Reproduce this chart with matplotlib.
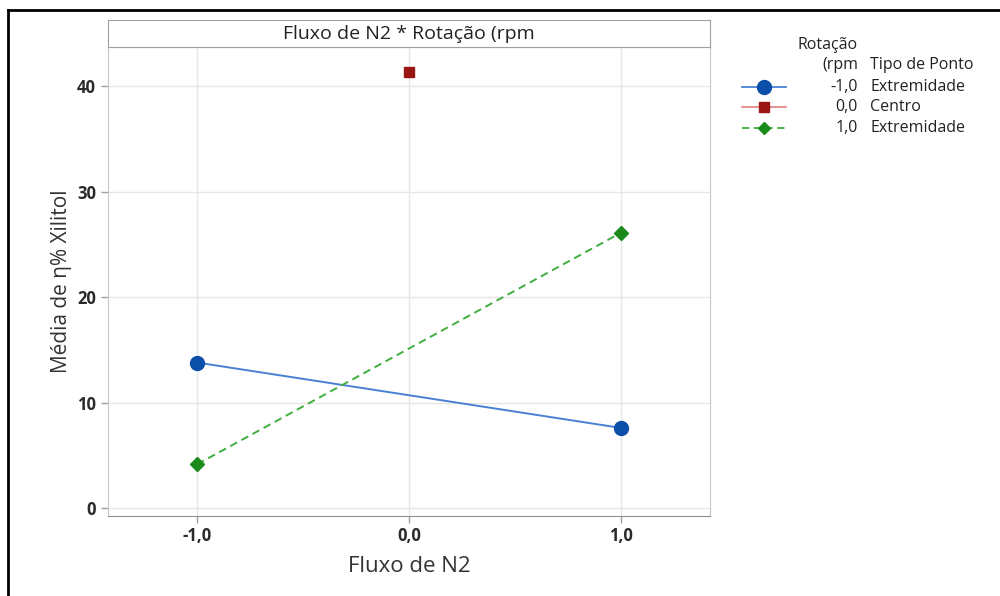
import matplotlib.pyplot as plt
from matplotlib.lines import Line2D

plt.rcParams['font.family'] = ['Open Sans', 'DejaVu Sans']

fluxo = [-1.0, 0.0, 1.0]
x_ticklabels = ["-1,0", "0,0", "1,0"]
y_ticks = [0, 10, 20, 30, 40]

# médias por nível de rotação
rot_labels = ["-1,0", "0,0", "1,0"]
tipo_ponto = ["Extremidade", "Centro", "Extremidade"]
x_baixa = [-1.0, 1.0]
y_baixa = [13.8, 7.6]
x_centro = [0.0]
y_centro = [41.35]
x_alta = [-1.0, 1.0]
y_alta = [4.15, 26.1]

blue_m, blue_l = "#0b4fa8", "#4a80d4"
red_m, red_l = "#9c1515", "#e08a8a"
green_m, green_l = "#1a8a1a", "#3fae3f"
edge = "#a0a0a0"

fig = plt.figure(figsize=(10, 5.96), dpi=100)
ax = fig.add_axes([0.108, 0.134, 0.602, 0.787])

ax.plot(x_baixa, y_baixa, color=blue_l, lw=1.4, marker="o", ms=10,
        mfc=blue_m, mec=blue_m, zorder=3)
ax.plot(x_centro, y_centro, color=red_l, lw=1.2, marker="s", ms=7,
        mfc=red_m, mec=red_m, zorder=3)
ax.plot(x_alta, y_alta, color=green_l, lw=1.4, ls=(0, (4, 2.5)), marker="D",
        ms=7, mfc=green_m, mec=green_m, zorder=3)

ax.set_xlim(-1.42, 1.42)
ax.set_ylim(-0.76, 43.7)
ax.set_xticks(fluxo)
ax.set_xticklabels(x_ticklabels)
ax.set_yticks(y_ticks)
ax.grid(True, color="#e6e6e6", lw=1)
ax.set_axisbelow(True)
ax.tick_params(axis="both", colors=edge, labelcolor="#2a2a2a", length=5,
               width=1, labelsize=12)
for lab in ax.get_xticklabels() + ax.get_yticklabels():
    lab.set_fontweight("bold")
ax.tick_params(axis="x", pad=3)
for side in ["top", "right", "left"]:
    ax.spines[side].set_color("#c8c8c8")
ax.spines["bottom"].set_color("#909090")
ax.set_xlabel("Fluxo de N2", fontsize=16, color="#333333", labelpad=8)
ax.set_ylabel("Média de η% Xilitol", fontsize=15, color="#333333", labelpad=4)

# faixa do título
strip = fig.add_axes([0.108, 0.921, 0.602, 0.045])
strip.set_xticks([])
strip.set_yticks([])
for s in strip.spines.values():
    s.set_color(edge)
strip.text(0.5, 0.5, "Fluxo de N2 * Rotação (rpm", ha="center", va="center",
           fontsize=14, color="#222222", transform=strip.transAxes)

# legenda manual
def px(x, y):
    return x / 1000, 1 - y / 596

fig.text(*px(858, 45), "Rotação", ha="right", va="center", fontsize=11.5,
         color="#222222")
fig.text(*px(858, 65), "(rpm", ha="right", va="center", fontsize=11.5,
         color="#222222")
fig.text(*px(870, 65), "Tipo de Ponto", ha="left", va="center",
         fontsize=11.5, color="#222222")
handles = [
    dict(color=blue_l, ls="-", marker="o", ms=10, mc=blue_m),
    dict(color=red_l, ls="-", marker="s", ms=7, mc=red_m),
    dict(color=green_l, ls=(0, (4, 2.5)), marker="D", ms=6, mc=green_m),
]
for i, (lab, tipo, h) in enumerate(zip(rot_labels, tipo_ponto, handles)):
    yy = 87 + i * 20.5
    x0, y0 = px(742, yy)
    x1, _ = px(786, yy)
    fig.add_artist(Line2D([x0, x1], [y0, y0], color=h["color"], ls=h["ls"],
                          lw=1.3, transform=fig.transFigure))
    fig.add_artist(Line2D([(x0 + x1) / 2], [y0], marker=h["marker"],
                          ms=h["ms"], mfc=h["mc"], mec=h["mc"], ls="none",
                          transform=fig.transFigure))
    fig.text(*px(858, yy), lab, ha="right", va="center", fontsize=11.5,
             color="#222222")
    fig.text(*px(870, yy), tipo, ha="left", va="center", fontsize=11.5,
             color="#222222")

# moldura preta
fig.add_artist(Line2D([px(8, 0)[0], 1], [px(0, 10)[1]] * 2, color="black",
                      lw=2, transform=fig.transFigure))
fig.add_artist(Line2D([px(8, 0)[0]] * 2, [px(0, 10)[1], 0], color="black",
                      lw=2, transform=fig.transFigure))

fig.savefig("out.png", dpi=100, facecolor="white")
